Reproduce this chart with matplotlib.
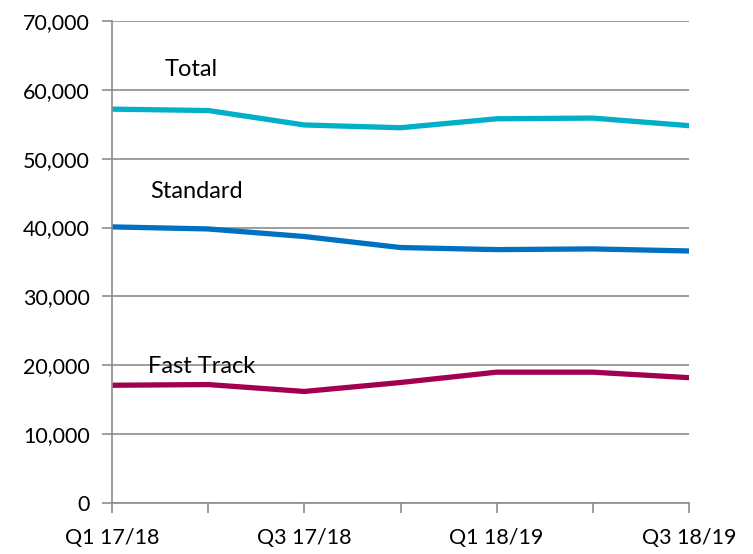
import matplotlib.pyplot as plt
from matplotlib.ticker import FuncFormatter

plt.rcParams['font.family'] = ['Lato', 'DejaVu Sans']

quarters = ['Q1 17/18', 'Q2 17/18', 'Q3 17/18', 'Q4 17/18', 'Q1 18/19', 'Q2 18/19', 'Q3 18/19']
total = [57200, 57000, 54900, 54500, 55800, 55900, 54800]
standard = [40100, 39800, 38700, 37100, 36800, 36900, 36600]
fast_track = [17100, 17200, 16200, 17500, 19000, 19000, 18200]

fig = plt.figure(figsize=(7.53, 5.54), dpi=100)
ax = fig.add_axes([112/753, 1-503/554, (689-112)/753, (503-21)/554])

x = range(len(quarters))
ax.plot(x, total, color='#00afc8', lw=3.8, solid_capstyle='round')
ax.plot(x, standard, color='#0070c0', lw=3.8, solid_capstyle='round')
ax.plot(x, fast_track, color='#a2004f', lw=3.8, solid_capstyle='round')

ax.text(0.55, 63000, 'Total', fontsize=17, va='center')
ax.text(0.40, 45200, 'Standard', fontsize=17, va='center')
ax.text(0.37, 19800, 'Fast Track', fontsize=17, va='center')

ax.set_xlim(0, len(quarters) - 1)
ax.set_ylim(0, 70000)
ax.set_yticks(range(0, 70001, 10000))
ax.yaxis.set_major_formatter(FuncFormatter(lambda v, p: f'{int(v):,}'))
ax.set_xticks(list(x))
ax.set_xticklabels([q if i % 2 == 0 else '' for i, q in enumerate(quarters)])

ax.grid(axis='y', color='#8c8c8c', lw=1.2)
ax.set_axisbelow(True)
for s in ['top', 'right']:
    ax.spines[s].set_visible(False)
for s in ['left', 'bottom']:
    ax.spines[s].set_color('#8c8c8c')
    ax.spines[s].set_linewidth(1.2)
ax.tick_params(axis='both', color='#8c8c8c', width=1.2, length=7, labelsize=15.5)
ax.tick_params(axis='y', pad=9)
ax.tick_params(axis='x', pad=11)

fig.savefig('out.png', dpi=100)
